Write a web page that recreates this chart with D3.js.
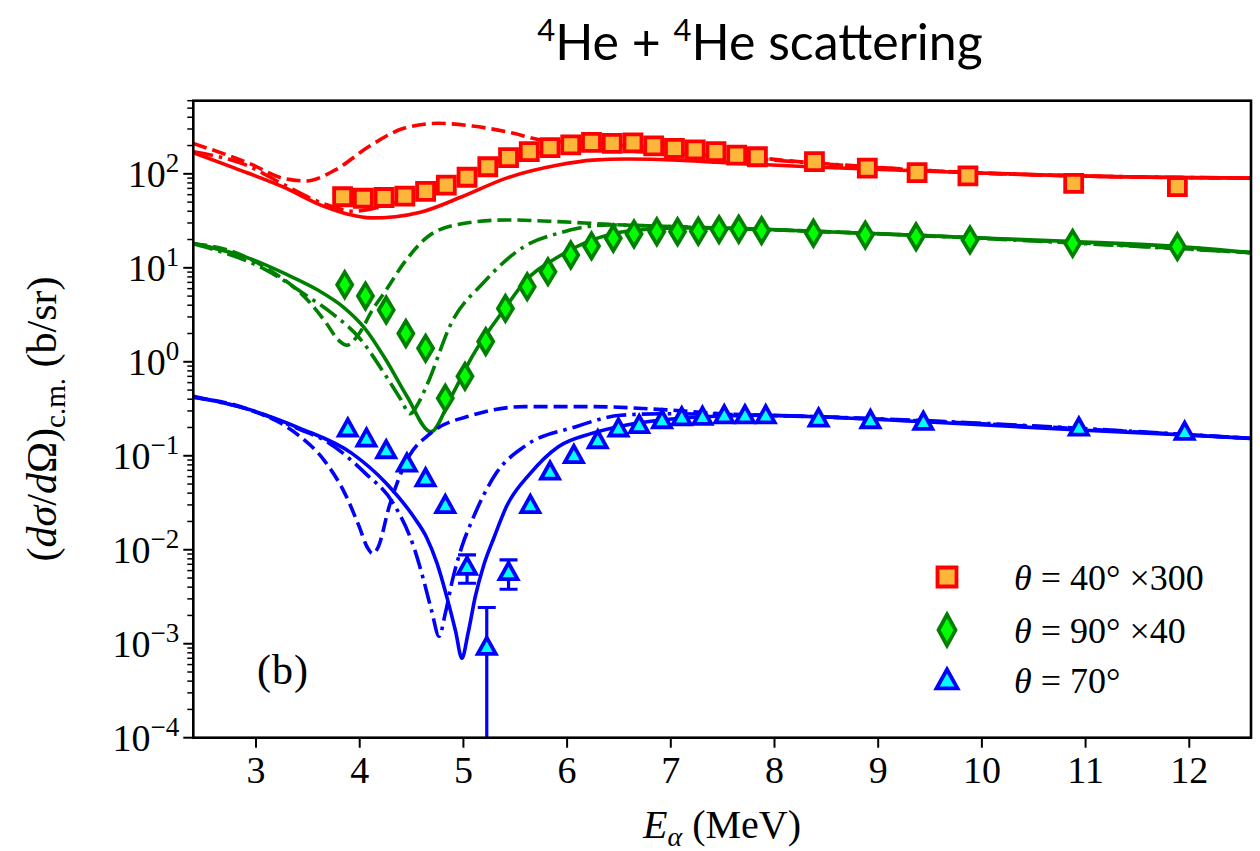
<!DOCTYPE html>
<html>
<head>
<meta charset="utf-8">
<script src="https://cdn.jsdelivr.net/npm/d3@7"></script>
<style>
body { margin: 0; background: #fff; }
text { font-family: "Liberation Serif", "DejaVu Serif", serif; fill: #000; }
</style>
</head>
<body>
<svg id="chart" width="1260" height="851"></svg>
<script>
// measured points (energy in MeV, cross section in b/sr, already scaled)
var redE = [3.84, 4.04, 4.24, 4.44, 4.64, 4.84, 5.04, 5.24, 5.44, 5.64, 5.84, 6.04, 6.24, 6.44, 6.64, 6.84, 7.04, 7.24, 7.44, 7.64, 7.84, 8.39, 8.9, 9.38, 9.87, 10.89, 11.89];
var redY = [57, 55, 56, 58, 65, 76, 92, 119, 149, 172, 190, 203, 216, 211, 214, 198, 187, 180, 172, 158, 152, 135, 115, 103, 95, 79, 73];

var greenE = [3.86, 4.06, 4.26, 4.45, 4.64, 4.83, 5.02, 5.22, 5.41, 5.62, 5.82, 6.04, 6.24, 6.45, 6.65, 6.87, 7.07, 7.27, 7.47, 7.66, 7.88, 8.38, 8.88, 9.37, 9.89, 10.88, 11.89];
var greenY = [6.6, 5.0, 3.56, 2.0, 1.39, 0.41, 0.70, 1.64, 3.7, 6.3, 9.1, 13.7, 17.1, 20.6, 22.9, 24.2, 24.2, 24.5, 25.5, 25.7, 24.9, 23.3, 22.3, 21.4, 19.8, 18.2, 16.8];

var blueE = [3.89, 4.07, 4.26, 4.46, 4.64, 4.83, 5.04, 5.23, 5.44, 5.65, 5.84, 6.07, 6.30, 6.50, 6.70, 6.92, 7.11, 7.31, 7.52, 7.72, 7.92, 8.43, 8.93, 9.44, 10.94, 11.96];
var blueY = [0.196, 0.153, 0.115, 0.083, 0.0577, 0.030, 0.0066, 0.00093, 0.0058, 0.030, 0.068, 0.102, 0.147, 0.196, 0.213, 0.24, 0.257, 0.26, 0.27, 0.27, 0.27, 0.25, 0.24, 0.23, 0.20, 0.18];
var blueErr = [0, 0, 0, 0, 0, 0, 0.0022, 0.0015, 0.002, 0, 0, 0, 0, 0, 0, 0, 0, 0, 0, 0, 0, 0, 0, 0, 0, 0];

// calculated curves [E, value]
var redSolid = [[2.4,168],[2.8,115],[3.26,73],[3.66,45],[3.9,37],[4.11,34],[4.35,35],[4.59,39],[4.99,57],[5.42,90],[5.92,124],[6.25,140],[6.58,144],[7.08,140],[7.44,133],[8.38,118],[9.89,103],[10.9,95],[12.6,90]];
var redDashed = [[2.4,210],[2.94,129],[3.26,90],[3.49,84],[3.77,110],[4.09,194],[4.43,305],[4.76,345],[5.09,323],[5.49,270],[5.75,229],[6.25,211],[6.8,190],[7.3,170],[8.4,130],[9.9,103],[10.9,95],[12.6,90]];
var redDashDot = [[2.4,172],[2.94,120],[3.26,78],[3.66,48],[3.95,40],[4.19,44],[4.66,67],[5.0,95],[5.46,152],[5.86,172],[6.3,180],[6.8,170],[7.3,158],[8.4,130],[9.9,103],[12.6,90]];

var greenSolid = [[2.4,18.2],[2.94,12.6],[3.3,8.5],[3.6,5.8],[3.85,3.8],[4.05,2.3],[4.26,1.04],[4.46,0.43],[4.69,0.18],[4.89,0.43],[5.09,1.14],[5.42,3.9],[5.59,7.0],[5.92,13.1],[6.25,19.8],[6.58,24.5],[7.08,26.5],[7.46,26.5],[8.38,24.5],[9.89,21],[10.9,19],[11.9,16.8],[12.6,14.5]];
var greenDashed = [[2.4,18],[2.73,15.5],[3.1,10],[3.53,4.2],[3.68,2.6],[3.8,1.7],[3.88,1.5],[4.0,2.0],[4.13,3.6],[4.26,5.8],[4.43,11.2],[4.66,21.4],[4.93,28.6],[5.42,32.3],[5.92,31],[6.41,29],[7.0,27.5],[8.38,24.5],[9.89,21],[12.6,14.5]];
var greenDashDot = [[2.4,18],[3.1,9.5],[3.5,5.0],[3.75,3.2],[4.0,1.8],[4.26,0.70],[4.4,0.40],[4.49,0.28],[4.58,0.38],[4.66,0.59],[4.89,2.6],[5.19,6.8],[5.59,16.8],[5.92,23.3],[6.41,28.6],[7.0,27.5],[8.38,24.5],[12.6,14.5]];

var blueSolid = [[2.4,0.43],[2.94,0.31],[3.43,0.196],[3.93,0.106],[4.26,0.051],[4.53,0.022],[4.65,0.0135],[4.75,0.0072],[4.85,0.0030],[4.93,0.00135],[4.99,0.0007],[5.05,0.0013],[5.12,0.0032],[5.2,0.0068],[5.3,0.0135],[5.42,0.0288],[5.65,0.065],[5.92,0.125],[6.25,0.174],[6.58,0.213],[6.92,0.24],[7.31,0.26],[7.9,0.27],[8.42,0.26],[9.45,0.23],[10.94,0.188],[11.96,0.167],[12.6,0.153]];
var blueDashed = [[2.4,0.42],[2.94,0.31],[3.4,0.17],[3.66,0.09],[3.86,0.04],[4.0,0.0176],[4.08,0.0105],[4.13,0.0091],[4.18,0.0105],[4.29,0.029],[4.46,0.09],[4.69,0.174],[5.09,0.27],[5.59,0.333],[6.25,0.333],[6.92,0.31],[7.5,0.28],[8.42,0.26],[12.6,0.153]];
var blueDashDot = [[2.4,0.42],[2.94,0.31],[3.43,0.19],[3.66,0.147],[4.06,0.065],[4.33,0.031],[4.53,0.0104],[4.62,0.0048],[4.7,0.0022],[4.77,0.0012],[4.83,0.0021],[4.9,0.0048],[4.99,0.0108],[5.09,0.0207],[5.32,0.065],[5.59,0.125],[6.09,0.204],[6.52,0.27],[6.92,0.28],[7.5,0.275],[8.42,0.26],[12.6,0.153]];

var xTicks = [3, 4, 5, 6, 7, 8, 9, 10, 11, 12];
var yMajor = [-4, -3, -2, -1, 0, 1, 2];
var legendLabels = [["40°", " ×300"], ["90°", " ×40"], ["70°", ""]];

function main()
{
    var margin = { top: 100.7, left: 193.3 },
        width = 1251 - 193.3,
        height = 737.7 - 100.7;

    var svg = d3.select("#chart");

    var x = d3.scaleLinear().domain([2.4, 12.6]).range([0, width]);
    var y = d3.scaleLog().domain([1e-4, 600]).range([height, 0]);

    var g = svg.append("g")
        .attr("transform", "translate(" + margin.left + "," + margin.top + ")");

    svg.append("defs").append("clipPath").attr("id", "clip")
        .append("rect").attr("width", width).attr("height", height);

    // title
    var title = svg.append("text")
        .attr("x", 760).attr("y", 60)
        .attr("text-anchor", "middle")
        .style("font-family", "Lato, 'Open Sans', sans-serif")
        .style("font-size", "50px");
    title.append("tspan").attr("font-size", "31px").attr("dy", "-19").text("4");
    title.append("tspan").attr("dy", "19").text("He + ");
    title.append("tspan").attr("font-size", "31px").attr("dy", "-19").text("4");
    title.append("tspan").attr("dy", "19").text("He scattering");

    var plot = g.append("g").attr("clip-path", "url(#clip)");

    var line = d3.line()
        .x(function(d) { return x(d[0]); })
        .y(function(d) { return y(d[1]); })
        .curve(d3.curveMonotoneX);

    var dashed = "14,6", dashdot = "20,6,3.5,6";
    var curves = [
        { data: redSolid, color: "#ff0000", dash: null },
        { data: redDashed, color: "#ff0000", dash: dashed },
        { data: redDashDot, color: "#ff0000", dash: dashdot },
        { data: greenSolid, color: "#008000", dash: null },
        { data: greenDashed, color: "#008000", dash: dashed },
        { data: greenDashDot, color: "#008000", dash: dashdot },
        { data: blueSolid, color: "#0000ff", dash: null },
        { data: blueDashed, color: "#0000ff", dash: dashed },
        { data: blueDashDot, color: "#0000ff", dash: dashdot }
    ];

    plot.selectAll("path.curve")
        .data(curves)
        .enter().append("path")
        .attr("class", "curve")
        .attr("d", function(d) { return line(d.data); })
        .attr("fill", "none")
        .attr("stroke", function(d) { return d.color; })
        .attr("stroke-width", 3.6)
        .attr("stroke-dasharray", function(d) { return d.dash; });

    // marker shapes
    function square(s) { return "M" + (-s) + "," + (-s) + "H" + s + "V" + s + "H" + (-s) + "Z"; }
    function diamond(w, h) { return "M0," + (-h) + "L" + w + ",0L0," + h + "L" + (-w) + ",0Z"; }
    function triangle(s) { return "M0," + (-s) + "L" + s + "," + (s * 0.8) + "L" + (-s) + "," + (s * 0.8) + "Z"; }

    // blue error bars
    var errPts = blueE.map(function(e, i) { return { e: e, v: blueY[i], err: blueErr[i] }; })
        .filter(function(d) { return d.err > 0; });
    var eb = plot.selectAll("g.err").data(errPts).enter().append("g").attr("class", "err");
    eb.append("line")
        .attr("x1", function(d) { return x(d.e); }).attr("x2", function(d) { return x(d.e); })
        .attr("y1", function(d) { return y(d.v + d.err); })
        .attr("y2", function(d) { return d.v - d.err > 0 ? y(d.v - d.err) : height; })
        .attr("stroke", "#0000ff").attr("stroke-width", 3.2);
    eb.append("line")
        .attr("x1", function(d) { return x(d.e) - 9; }).attr("x2", function(d) { return x(d.e) + 9; })
        .attr("y1", function(d) { return y(d.v + d.err); }).attr("y2", function(d) { return y(d.v + d.err); })
        .attr("stroke", "#0000ff").attr("stroke-width", 3.2);
    eb.filter(function(d) { return d.v - d.err > 0; }).append("line")
        .attr("x1", function(d) { return x(d.e) - 9; }).attr("x2", function(d) { return x(d.e) + 9; })
        .attr("y1", function(d) { return y(d.v - d.err); }).attr("y2", function(d) { return y(d.v - d.err); })
        .attr("stroke", "#0000ff").attr("stroke-width", 3.2);

    var pointSets = [
        { e: redE, v: redY, shape: square(8.5), fill: "#fdb53a", stroke: "#ff0000" },
        { e: greenE, v: greenY, shape: diamond(7.5, 12.5), fill: "#00ff00", stroke: "#008000" },
        { e: blueE, v: blueY, shape: triangle(9), fill: "#00ffff", stroke: "#0000ff" }
    ];

    pointSets.forEach(function(set) {
        plot.append("g").selectAll("path")
            .data(set.e.map(function(e, i) { return [e, set.v[i]]; }))
            .enter().append("path")
            .attr("transform", function(d) { return "translate(" + x(d[0]) + "," + y(d[1]) + ")"; })
            .attr("d", set.shape)
            .attr("fill", set.fill)
            .attr("stroke", set.stroke)
            .attr("stroke-width", 3.8)
            .attr("stroke-linejoin", "miter");
    });

    // x axis
    var xAxis = g.append("g")
        .attr("transform", "translate(0," + height + ")")
        .call(d3.axisBottom(x).tickValues(xTicks).tickSize(10).tickSizeOuter(0).tickPadding(8));
    xAxis.select(".domain").remove();
    xAxis.selectAll(".tick line").attr("stroke", "#000").attr("stroke-width", 2);
    xAxis.selectAll(".tick text")
        .style("font-family", "'Liberation Serif', serif")
        .style("font-size", "38px");

    // y axis: minor ticks from scale, major ticks with power labels
    var yAxis = g.append("g");
    var minor = y.ticks().filter(function(t) {
        var l = Math.log10(t);
        return Math.abs(l - Math.round(l)) > 1e-6;
    });
    yAxis.selectAll("line.minor").data(minor).enter().append("line")
        .attr("x1", -6).attr("x2", 0)
        .attr("y1", function(d) { return y(d); }).attr("y2", function(d) { return y(d); })
        .attr("stroke", "#000").attr("stroke-width", 1.5);
    yAxis.selectAll("line.major").data(yMajor).enter().append("line")
        .attr("x1", -10).attr("x2", 0)
        .attr("y1", function(d) { return y(Math.pow(10, d)); }).attr("y2", function(d) { return y(Math.pow(10, d)); })
        .attr("stroke", "#000").attr("stroke-width", 2);
    var ylab = yAxis.selectAll("text.major").data(yMajor).enter().append("text")
        .attr("x", -14)
        .attr("y", function(d) { return y(Math.pow(10, d)) + 13; })
        .attr("text-anchor", "end")
        .style("font-size", "38px");
    ylab.append("tspan").text("10");
    ylab.append("tspan").attr("dy", -15).style("font-size", "27px")
        .text(function(d) { return d < 0 ? "\u2212" + (-d) : String(d); });

    // frame
    g.append("rect")
        .attr("width", width).attr("height", height)
        .attr("fill", "none").attr("stroke", "#000").attr("stroke-width", 2.6);

    // axis titles
    var xl = svg.append("text")
        .attr("x", 722).attr("y", 838)
        .attr("text-anchor", "middle")
        .style("font-size", "40px");
    xl.append("tspan").style("font-style", "italic").text("E");
    xl.append("tspan").attr("dy", 8).style("font-style", "italic").style("font-size", "28px").text("\u03b1");
    xl.append("tspan").attr("dy", -8).text(" (MeV)");

    var yl = svg.append("text")
        .attr("transform", "translate(56,419) rotate(-90)")
        .attr("text-anchor", "middle")
        .style("font-size", "42px");
    yl.append("tspan").text("(");
    yl.append("tspan").style("font-style", "italic").text("d\u03c3");
    yl.append("tspan").text("/");
    yl.append("tspan").style("font-style", "italic").text("d");
    yl.append("tspan").text("\u03a9)");
    yl.append("tspan").attr("dy", 9).style("font-size", "29px").text("c.m.");
    yl.append("tspan").attr("dy", -9).text(" (b/sr)");

    // panel label
    svg.append("text").attr("x", 257).attr("y", 684)
        .style("font-size", "42px").style("letter-spacing", "1px").text("(b)");

    // legend
    var legendY = [577, 630, 680];
    var leg = svg.append("g");
    var legShapes = [square(9.5), diamond(8.5, 15.5), triangle(10.5)];
    pointSets.forEach(function(set, i) {
        leg.append("path")
            .attr("transform", "translate(947," + legendY[i] + ")")
            .attr("d", legShapes[i])
            .attr("fill", set.fill).attr("stroke", set.stroke).attr("stroke-width", 3.8);
        var t = leg.append("text").attr("x", 1014).attr("y", legendY[i] + 13).style("font-size", "36px");
        t.append("tspan").style("font-style", "italic").text("\u03b8");
        t.append("tspan").attr("xml:space", "preserve").text(" = " + legendLabels[i][0] + legendLabels[i][1]);
    });
}

main();
</script>
</body>
</html>
